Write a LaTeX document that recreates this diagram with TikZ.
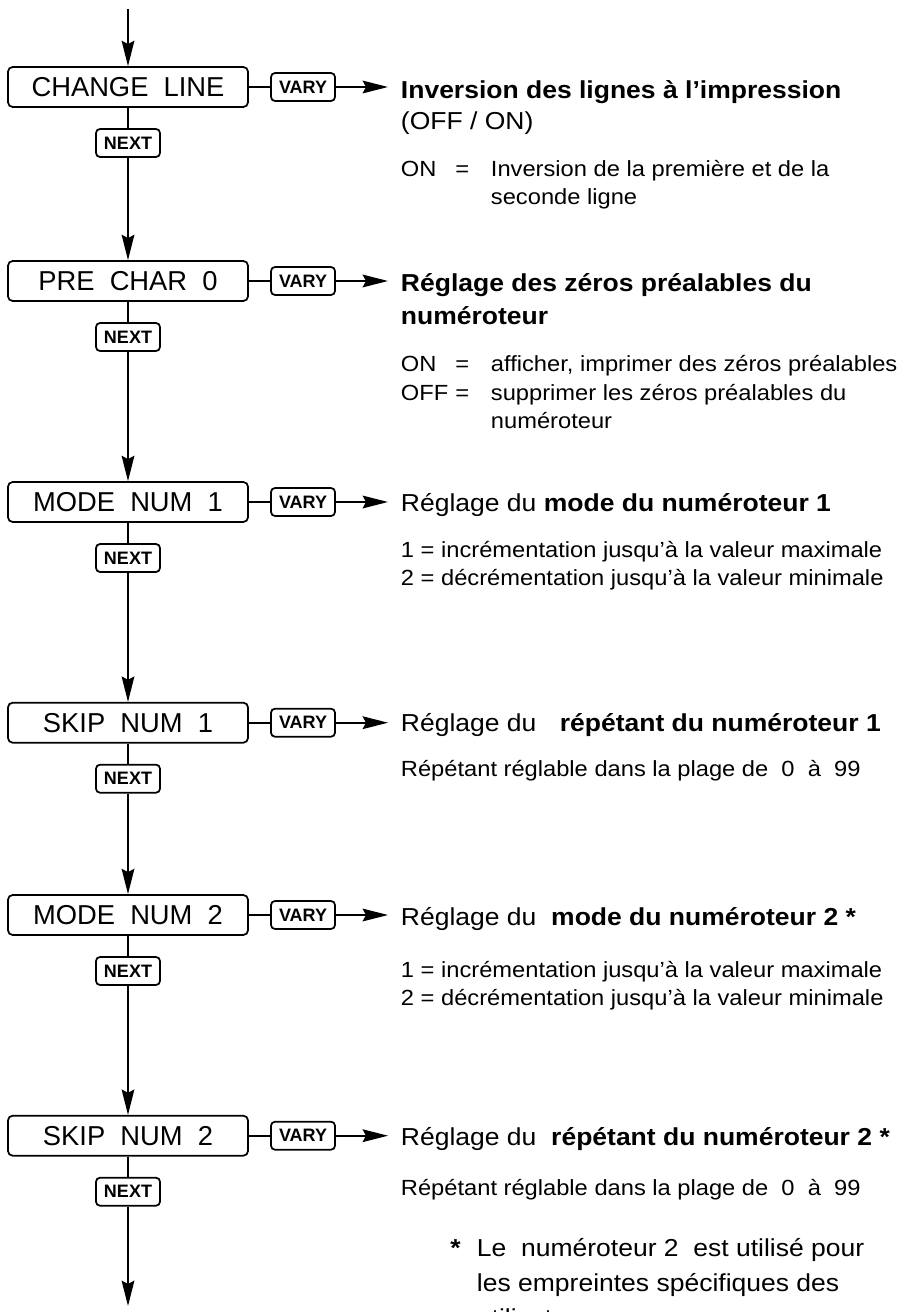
\documentclass[tikz,border=0pt]{standalone}
\usepackage{fontspec}
\setmainfont{Liberation Sans}
\newfontfamily\txtf[FakeStretch=1.08]{Liberation Sans}
\usetikzlibrary{arrows.meta}
\begin{document}
\begin{tikzpicture}[x=0.75pt,y=-0.75pt,
  mainbox/.style={draw,line width=1.3pt,rounded corners=3.5pt,minimum width=180pt,minimum height=30pt,inner sep=0pt,font=\fontsize{20.5}{24}\selectfont},
  keybox/.style={draw,line width=1.3pt,rounded corners=3pt,minimum width=48pt,minimum height=21pt,inner sep=0pt,font=\fontsize{13.5}{16}\selectfont\bfseries},
  ln/.style={line width=1.6pt},
  arr/.style={line width=1.6pt,-{Stealth[length=19pt,width=9.5pt,inset=2.5pt]}},
  hd/.style={anchor=base west,inner sep=0pt,font=\txtf\fontsize{18.4}{22}\selectfont},
  bd/.style={anchor=base west,inner sep=0pt,font=\txtf\fontsize{16.45}{20}\selectfont},
]
\useasboundingbox (0,0) rectangle (900,1312);
\fill[white] (0,0) rectangle (900,1312);
\clip (0,0) rectangle (900,1312);

% main boxes
\node[mainbox] (b1) at (128,87) {CHANGE\ \ LINE};
\node[mainbox] (b2) at (128,281) {PRE\ \ CHAR\ \ 0};
\node[mainbox] (b3) at (128,502) {MODE\ \ NUM\ \ 1};
\node[mainbox] (b4) at (128,722.7) {SKIP\ \ NUM\ \ 1};
\node[mainbox] (b5) at (128,915) {MODE\ \ NUM\ \ 2};
\node[mainbox] (b6) at (128,1135.7) {SKIP\ \ NUM\ \ 2};

% NEXT keys
\node[keybox] (n1) at (128,143) {NEXT};
\node[keybox] (n2) at (128,337) {NEXT};
\node[keybox] (n3) at (128,558) {NEXT};
\node[keybox] (n4) at (128,778.7) {NEXT};
\node[keybox] (n5) at (128,971) {NEXT};
\node[keybox] (n6) at (128,1191.7) {NEXT};

% VARY keys
\node[keybox] (v1) at (303,87) {VARY};
\node[keybox] (v2) at (303,281) {VARY};
\node[keybox] (v3) at (303,502) {VARY};
\node[keybox] (v4) at (303,722.7) {VARY};
\node[keybox] (v5) at (303,915) {VARY};
\node[keybox] (v6) at (303,1135.7) {VARY};

% free ends
\coordinate (top) at (128,9);
\coordinate (bot) at (128,1306);
\coordinate (e1) at (388,87);
\coordinate (e2) at (388,281);
\coordinate (e3) at (388,502);
\coordinate (e4) at (388,722.7);
\coordinate (e5) at (388,915);
\coordinate (e6) at (388,1135.7);

% vertical flow
\draw[arr] (top) -- (b1);
\draw[ln] (b1) -- (n1);
\draw[arr] (n1) -- (b2);
\draw[ln] (b2) -- (n2);
\draw[arr] (n2) -- (b3);
\draw[ln] (b3) -- (n3);
\draw[arr] (n3) -- (b4);
\draw[ln] (b4) -- (n4);
\draw[arr] (n4) -- (b5);
\draw[ln] (b5) -- (n5);
\draw[arr] (n5) -- (b6);
\draw[ln] (b6) -- (n6);
\draw[arr] (n6) -- (bot);

% horizontal VARY branches
\draw[ln] (b1) -- (v1); \draw[arr] (v1) -- (e1);
\draw[ln] (b2) -- (v2); \draw[arr] (v2) -- (e2);
\draw[ln] (b3) -- (v3); \draw[arr] (v3) -- (e3);
\draw[ln] (b4) -- (v4); \draw[arr] (v4) -- (e4);
\draw[ln] (b5) -- (v5); \draw[arr] (v5) -- (e5);
\draw[ln] (b6) -- (v6); \draw[arr] (v6) -- (e6);

% block 1
\node[hd] (h1) at (400.7,98.3) {\bfseries Inversion des lignes à l’impression};
\node[hd] (h1b) at (400.7,130) {(OFF / ON)};
\node[bd] (k1) at (400.7,176.7) {ON};
\node[bd] (q1) at (455,176.7) {=};
\node[bd] (d1) at (490.7,176.7) {Inversion de la première et de la};
\node[bd] (d1b) at (490.7,205) {seconde ligne};

% block 2
\node[hd] (h2) at (400.7,291.7) {\bfseries Réglage des zéros préalables du};
\node[hd] (h2b) at (400.7,325) {\bfseries numéroteur};
\node[bd] (k2) at (400.7,371.7) {ON};
\node[bd] (q2) at (455,371.7) {=};
\node[bd] (d2) at (490.7,371.7) {afficher, imprimer des zéros préalables};
\node[bd] (k3) at (400.7,400) {OFF};
\node[bd] (q3) at (455,400) {=};
\node[bd] (d3) at (490.7,400) {supprimer les zéros préalables du};
\node[bd] (d3b) at (490.7,428.3) {numéroteur};

% block 3
\node[hd] (h3) at (400.7,511.7) {Réglage du \textbf{mode du numéroteur 1}};
\node[bd] (d4) at (400.7,557) {1 = incrémentation jusqu’à la valeur maximale};
\node[bd] (d5) at (400.7,585) {2 = décrémentation jusqu’à la valeur minimale};

% block 4
\node[hd] (h4) at (400.7,731) {Réglage du\hspace{0.95em}\textbf{répétant du numéroteur 1}};
\node[bd] (d6) at (400.7,776.7) {Répétant réglable dans la plage de\ \ 0\ \ à\ \ 99};

% block 5
\node[hd] (h5) at (400.7,925.5) {Réglage du\ \ \textbf{mode du numéroteur 2 *}};
\node[bd] (d7) at (400.7,977) {1 = incrémentation jusqu’à la valeur maximale};
\node[bd] (d8) at (400.7,1005) {2 = décrémentation jusqu’à la valeur minimale};

% block 6
\node[hd] (h6) at (400.7,1145) {Réglage du\ \ \textbf{répétant du numéroteur 2 *}};
\node[bd] (d9) at (400.7,1195) {Répétant réglable dans la plage de\ \ 0\ \ à\ \ 99};
\node[hd] (s1) at (450,1256.7) {\bfseries *};
\node[hd] (f1) at (476.7,1256.7) {Le\ \ numéroteur 2\ \ est utilisé pour};
\node[hd] (f2) at (476.7,1291.7) {les empreintes spécifiques des};
\node[hd] (f3) at (476.7,1326.7) {utilisateurs};
\end{tikzpicture}
\end{document}
